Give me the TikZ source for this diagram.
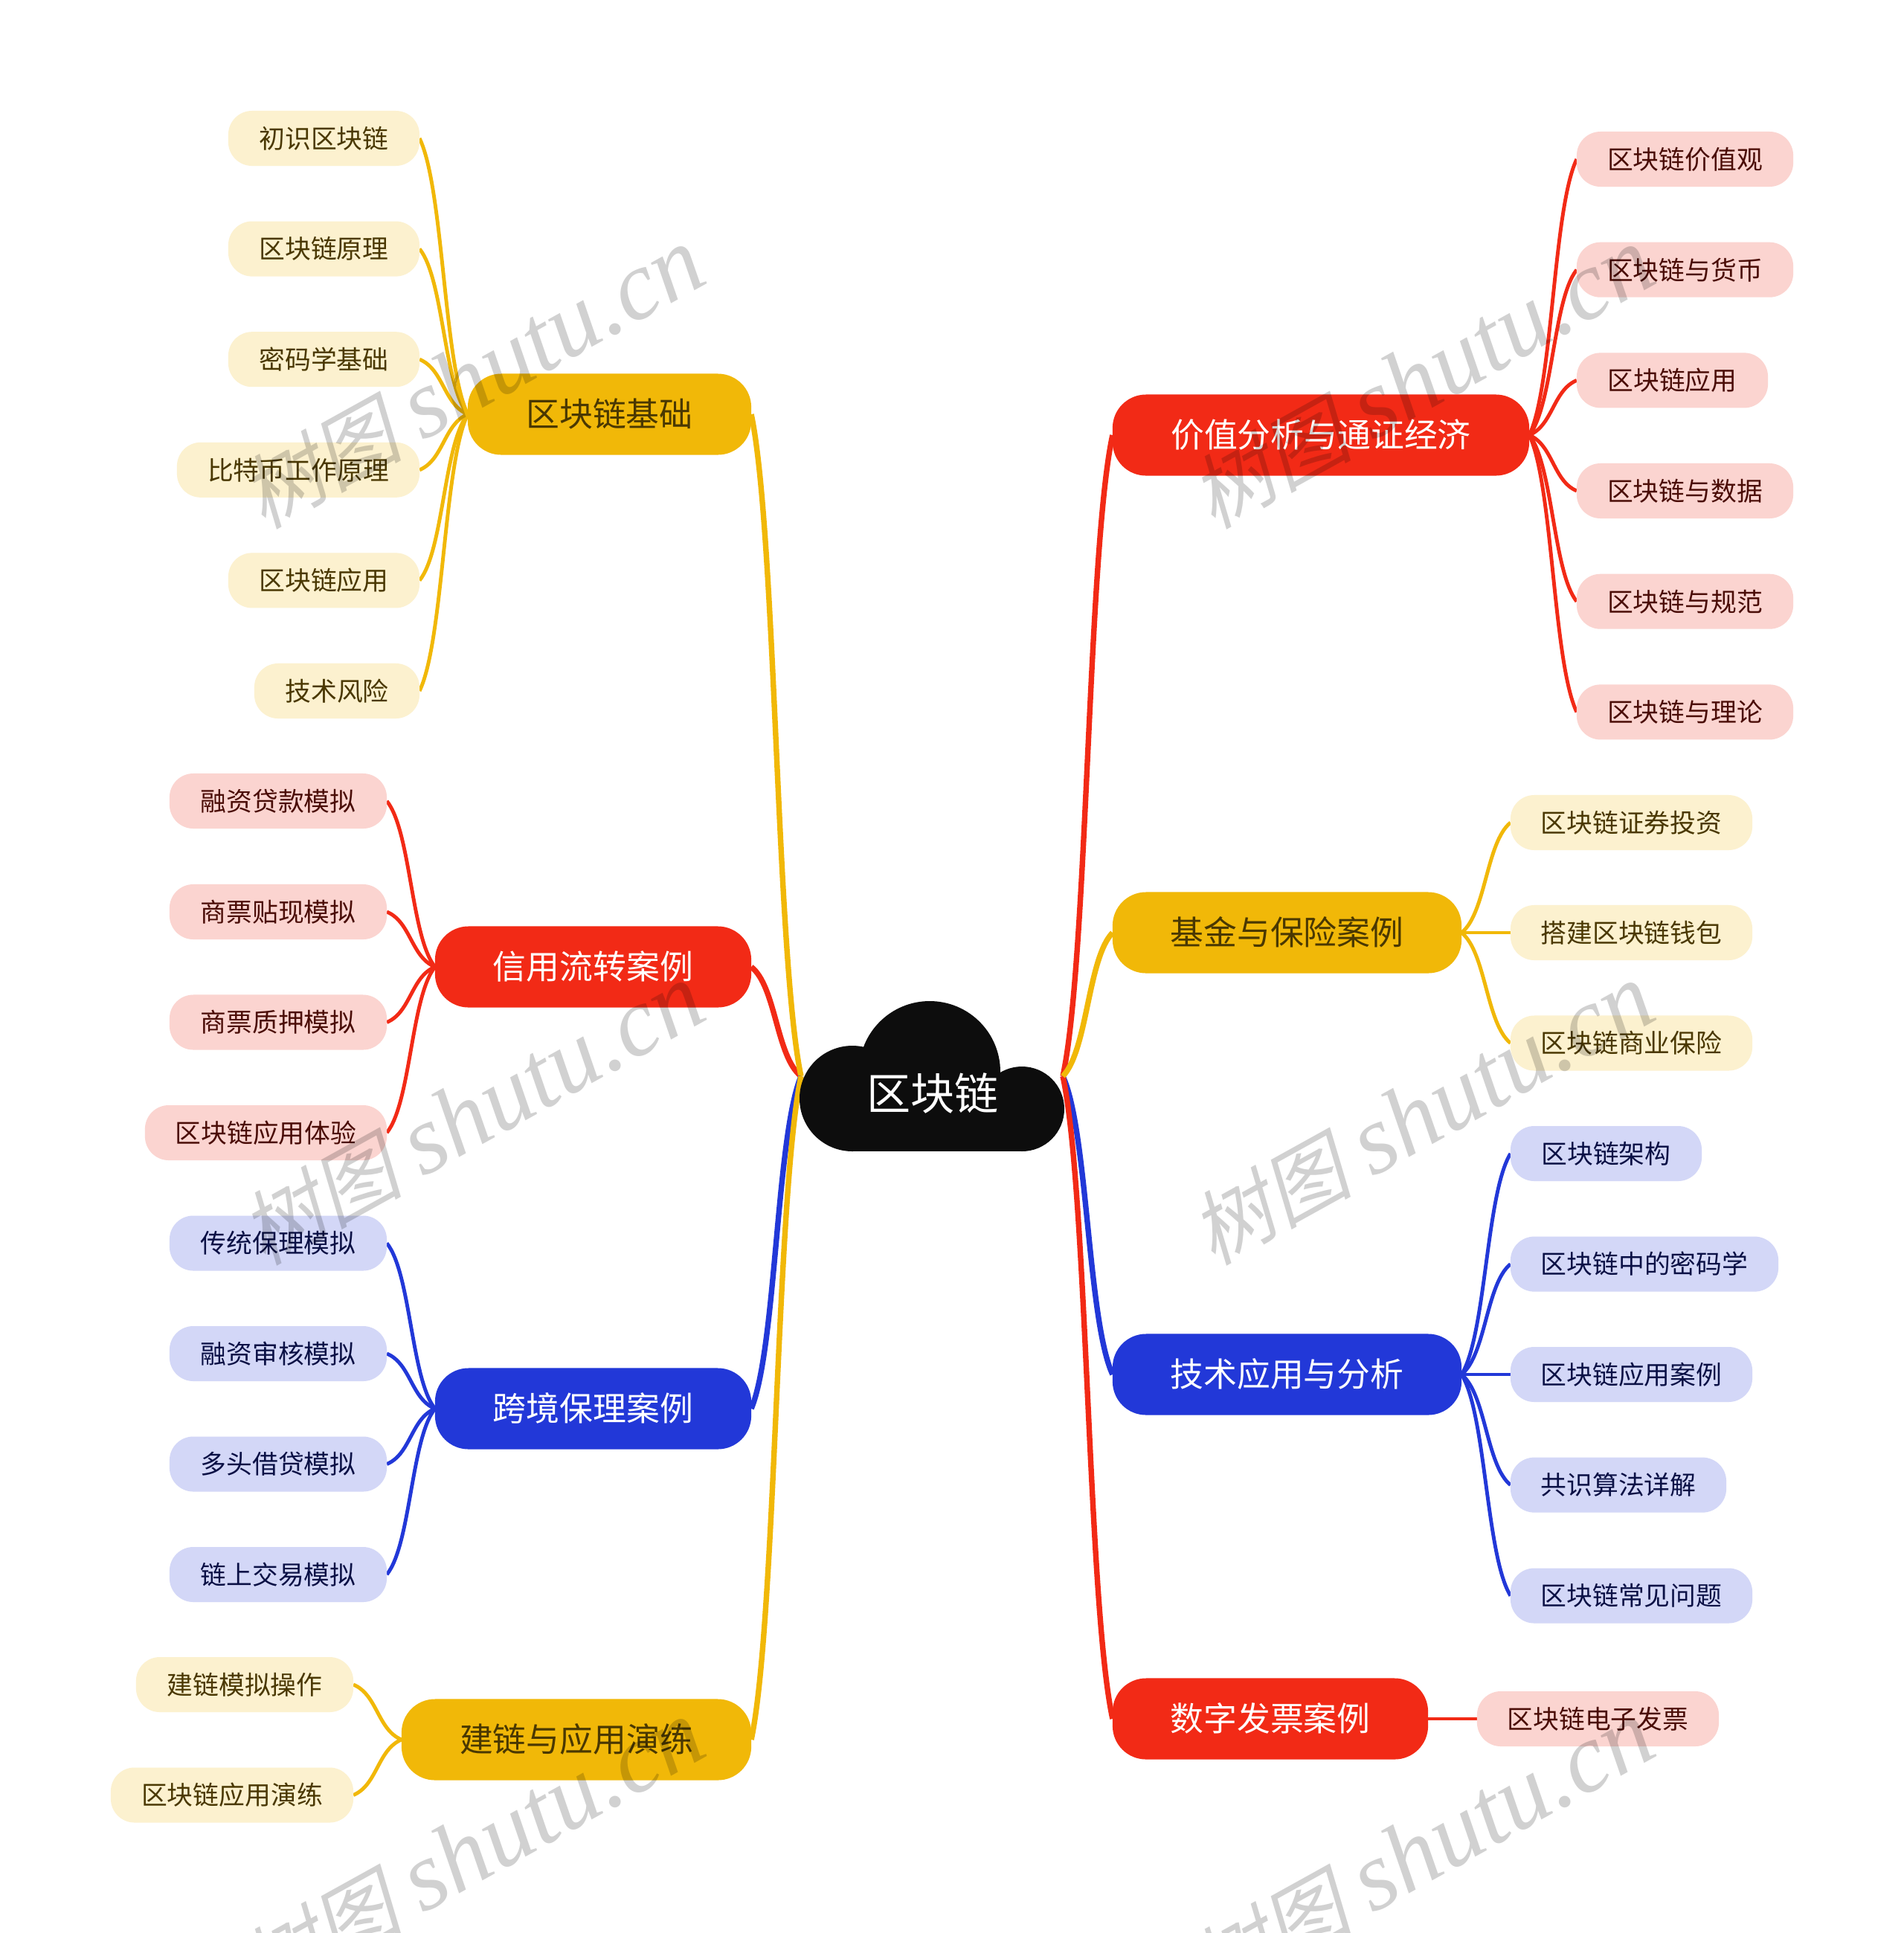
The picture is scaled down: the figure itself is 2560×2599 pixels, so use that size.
\documentclass[tikz,border=0pt]{standalone}
\usepackage{fontspec}
\setmainfont{Noto Sans CJK SC}
\newfontfamily\wmcjk[FakeSlant=0.22]{Noto Sans CJK SC}
\newfontfamily\wmlat{Liberation Serif}
\usetikzlibrary{calc,backgrounds}
\definecolor{cred}{HTML}{F22A16}
\definecolor{cyel}{HTML}{F1B808}
\definecolor{cblu}{HTML}{2238D8}
\definecolor{lred}{HTML}{FBD4D0}
\definecolor{lyel}{HTML}{FCF1CF}
\definecolor{lblu}{HTML}{D3D7F7}
\definecolor{tred}{HTML}{4A0C06}
\definecolor{tyel}{HTML}{4A3802}
\definecolor{tblu}{HTML}{0A1045}
\definecolor{troot}{HTML}{0D0D0D}
\tikzset{
  box/.style={shape=rectangle,inner sep=0pt,outer sep=0pt,align=center,text height=.88em,text depth=.12em},
  leaf/.style={box,minimum height=.74cm,rounded corners=.32cm,font=\fontsize{9.9pt}{12pt}\selectfont},
  mainbox/.style={box,text height=1.05em,minimum height=1.09cm,rounded corners=.45cm,font=\fontsize{12.75pt}{15pt}\selectfont},
  lr/.style={leaf,fill=lred,text=tred},
  ly/.style={leaf,fill=lyel,text=tyel},
  lb/.style={leaf,fill=lblu,text=tblu},
  mr/.style={mainbox,fill=cred,text=white},
  my/.style={mainbox,fill=cyel,text=tyel},
  mb/.style={mainbox,fill=cblu,text=white},
  mainlink/.style={line width=2.1pt},
  leaflink/.style={line width=1.4pt},
  wm/.style={inner sep=0pt,rotate=29,text=black,text opacity=.18},
}
% curve between two named points
\newcommand{\lnk}[4]{\draw[#1,#2] let \p1=(#3),\p2=(#4) in (\p1) .. controls ({.5*\x1+.5*\x2},{.82*\y1+.18*\y2}) and ({.5*\x1+.5*\x2},{.18*\y1+.82*\y2}) .. (\p2);}
% \nbox{style}{name}{left}{right}{cy}{text}
\newcommand{\nbox}[6]{\pgfmathsetmacro\bxw{(#4-#3)/100}\pgfmathsetmacro\bxc{(#4+#3)/2}\node[#1,minimum width=\bxw cm] (#2) at (\bxc,#5) {#6};}
\begin{document}
\begin{tikzpicture}[x=.01cm,y=-.01cm]
\useasboundingbox (0,0) rectangle (2560,2599);
% root cloud
\fill[troot] (1146,1477) circle (71);
\fill[troot] (1374,1491) circle (57);
\fill[troot] (1250,1441) circle (95);
\fill[troot] (1146,1450) rectangle (1374,1548);
\node[box,text=white,font=\fontsize{16.8pt}{20pt}\selectfont] (root) at (1254,1479) {区块链};
\coordinate (rootL) at (1077,1447);
\coordinate (rootR) at (1429,1447);
% right side main nodes
\nbox{mr}{m1}{1496}{2056}{585}{价值分析与通证经济}
\nbox{my}{m2}{1496}{1965}{1254}{基金与保险案例}
\nbox{mb}{m3}{1496}{1965}{1848}{技术应用与分析}
\nbox{mr}{m4}{1496}{1920}{2311}{数字发票案例}
% left side main nodes
\nbox{my}{m5}{629}{1010}{557}{区块链基础}
\nbox{mr}{m6}{585}{1010}{1300}{信用流转案例}
\nbox{mb}{m7}{585}{1010}{1894}{跨境保理案例}
\nbox{my}{m8}{540}{1010}{2339}{建链与应用演练}
% right leaves
\nbox{lr}{a1}{2120}{2411}{214}{区块链价值观}
\nbox{lr}{a2}{2120}{2411}{362.7}{区块链与货币}
\nbox{lr}{a3}{2120}{2377}{511.4}{区块链应用}
\nbox{lr}{a4}{2120}{2411}{660}{区块链与数据}
\nbox{lr}{a5}{2120}{2411}{808.7}{区块链与规范}
\nbox{lr}{a6}{2120}{2411}{957.4}{区块链与理论}
\nbox{ly}{b1}{2031}{2356}{1106}{区块链证券投资}
\nbox{ly}{b2}{2031}{2356}{1254}{搭建区块链钱包}
\nbox{ly}{b3}{2031}{2356}{1402.5}{区块链商业保险}
\nbox{lb}{c1}{2031}{2288}{1551}{区块链架构}
\nbox{lb}{c2}{2031}{2391}{1699.6}{区块链中的密码学}
\nbox{lb}{c3}{2031}{2356}{1848}{区块链应用案例}
\nbox{lb}{c4}{2031}{2321}{1996.6}{共识算法详解}
\nbox{lb}{c5}{2031}{2356}{2145.5}{区块链常见问题}
\nbox{lr}{d1}{1986}{2311}{2311}{区块链电子发票}
% left leaves
\nbox{ly}{e1}{307}{564}{186}{初识区块链}
\nbox{ly}{e2}{307}{564}{334.6}{区块链原理}
\nbox{ly}{e3}{307}{564}{483.2}{密码学基础}
\nbox{ly}{e4}{238}{564}{631.8}{比特币工作原理}
\nbox{ly}{e5}{307}{564}{780.4}{区块链应用}
\nbox{ly}{e6}{342}{564}{929}{技术风险}
\nbox{lr}{f1}{228}{520}{1077}{融资贷款模拟}
\nbox{lr}{f2}{228}{520}{1226}{商票贴现模拟}
\nbox{lr}{f3}{228}{520}{1374.5}{商票质押模拟}
\nbox{lr}{f4}{195}{520}{1523}{区块链应用体验}
\nbox{lb}{g1}{228}{520}{1671.5}{传统保理模拟}
\nbox{lb}{g2}{228}{520}{1820}{融资审核模拟}
\nbox{lb}{g3}{228}{520}{1968.5}{多头借贷模拟}
\nbox{lb}{g4}{228}{520}{2117}{链上交易模拟}
\nbox{ly}{h1}{183}{475}{2265}{建链模拟操作}
\nbox{ly}{h2}{149}{475}{2413.5}{区块链应用演练}
% connectors under the nodes
\begin{scope}[on background layer]
\fill[white] (0,0) rectangle (2560,2599);
\lnk{mainlink}{cred}{rootR}{m1.west}
\lnk{mainlink}{cblu}{rootR}{m3.west}
\lnk{mainlink}{cred}{rootR}{m4.west}
\lnk{mainlink}{cyel}{rootR}{m2.west}
\lnk{mainlink}{cred}{rootL}{m6.east}
\lnk{mainlink}{cyel}{rootL}{m5.east}
\lnk{mainlink}{cblu}{rootL}{m7.east}
\lnk{mainlink}{cyel}{rootL}{m8.east}
\foreach \kid in {a1,a2,a3,a4,a5,a6} {\lnk{leaflink}{cred}{m1.east}{\kid.west}}
\foreach \kid in {b1,b2,b3} {\lnk{leaflink}{cyel}{m2.east}{\kid.west}}
\foreach \kid in {c1,c2,c3,c4,c5} {\lnk{leaflink}{cblu}{m3.east}{\kid.west}}
\lnk{leaflink}{cred}{m4.east}{d1.west}
\foreach \kid in {e1,e2,e3,e4,e5,e6} {\lnk{leaflink}{cyel}{m5.west}{\kid.east}}
\foreach \kid in {f1,f2,f3,f4} {\lnk{leaflink}{cred}{m6.west}{\kid.east}}
\foreach \kid in {g1,g2,g3,g4} {\lnk{leaflink}{cblu}{m7.west}{\kid.east}}
\foreach \kid in {h1,h2} {\lnk{leaflink}{cyel}{m8.west}{\kid.east}}
\end{scope}
% watermarks
\foreach \wx/\wy/\wname in {635/509/w1,1912/509/w2,635/1499/w3,1912/1499/w4,635/2489/w5,1912/2489/w6} {
  \node[wm] (\wname) at (\wx,\wy) {\wmcjk\fontsize{31pt}{40pt}\selectfont 树图\hspace{.25em}\wmlat\itshape\fontsize{37.5pt}{40pt}\selectfont shutu.cn};
}
\end{tikzpicture}
\end{document}
